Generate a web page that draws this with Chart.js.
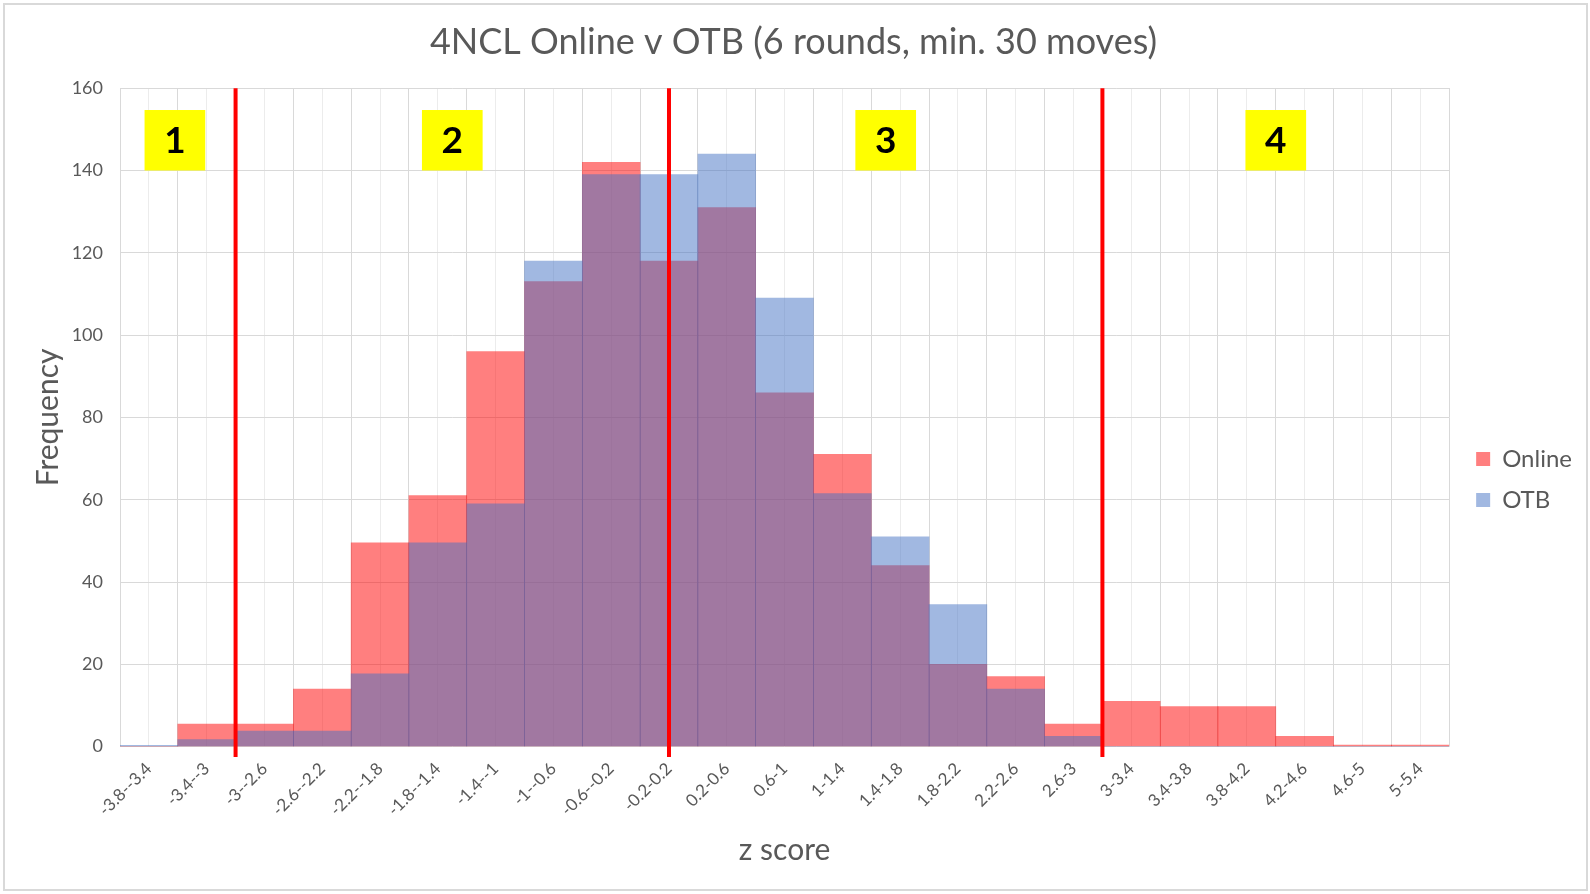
<!DOCTYPE html>
<html lang="en">

<head>
  <meta charset="UTF-8">
  <script src="https://cdn.jsdelivr.net/npm/chart.js@4"></script>
  <style>
    html,
    body {
      margin: 0;
      padding: 0;
      background: #fff;
    }

    body {
      width: 1590px;
      height: 894px;
      overflow: hidden;
      position: relative;
    }

    .frame {
      position: absolute;
      left: 3px;
      top: 3px;
      width: 1581px;
      height: 884px;
      border: 2px solid #d9d9d9;
    }

    .frame canvas {
      width: 1581px;
      height: 884px;
    }
  </style>
</head>

<body>
  <div class="frame">
    <canvas id="myChart"></canvas>
  </div>

  <script>
    // z score bins (category labels)
    const zBins = ['-3.8--3.4', '-3.4--3', '-3--2.6', '-2.6--2.2', '-2.2--1.8', '-1.8--1.4', '-1.4--1',
      '-1--0.6', '-0.6--0.2', '-0.2-0.2', '0.2-0.6', '0.6-1', '1-1.4', '1.4-1.8', '1.8-2.2', '2.2-2.6',
      '2.6-3', '3-3.4', '3.4-3.8', '3.8-4.2', '4.2-4.6', '4.6-5', '5-5.4'];

    const online = [0, 5.5, 5.5, 14, 49.5, 61, 96, 113, 142, 118, 131, 86, 71, 44, 20, 17, 5.5, 11, 9.7, 9.7, 2.5, 0.4, 0.4];
    const otb = [0.3, 1.7, 3.8, 3.8, 17.7, 49.5, 59, 118, 139, 139, 144, 109, 61.5, 51, 34.5, 14, 2.5, 0, 0, 0, 0, 0, 0];

    const yMin = 0, yMax = 160, yStep = 20;

    // zone dividers (z values) and numbered zone markers
    const zoneCuts = [-3, 0, 3];
    const zoneNames = ['1', '2', '3', '4'];
    const zoneCentres = [-3.42, -1.5, 1.5, 4.2];
    const zoneBand = [140, 154.7];

    const zMin = -3.8, zMax = 5.4, zStep = 0.2;

    Chart.defaults.font.family = 'Lato';
    Chart.defaults.color = '#595959';

    const zoneBoxes = {
      id: 'zoneBoxes',
      beforeDatasetsDraw(chart) {
        const { ctx, scales } = chart;
        const xz = scales.xz, y = scales.y;
        ctx.save();
        zoneCentres.forEach((c, i) => {
          const l = xz.getPixelForValue(c - 0.21);
          const r = xz.getPixelForValue(c + 0.21);
          const t = y.getPixelForValue(zoneBand[1]);
          const b = y.getPixelForValue(zoneBand[0]);
          ctx.fillStyle = '#ffff00';
          ctx.fillRect(l, t, r - l, b - t);
          ctx.fillStyle = '#000';
          ctx.font = 'bold 37px Lato';
          ctx.textAlign = 'center';
          ctx.textBaseline = 'middle';
          ctx.fillText(zoneNames[i], (l + r) / 2, (t + b) / 2 + 1);
        });
        ctx.restore();
      }
    };

    const cutSets = zoneCuts.map(z => ({
      type: 'line',
      label: 'cut',
      xAxisID: 'xz',
      data: [{ x: z, y: -2.5 }, { x: z, y: yMax }],
      borderColor: '#ff0000',
      borderWidth: 4,
      pointRadius: 0,
      clip: false,
      order: 0
    }));

    const ctx = document.getElementById('myChart').getContext('2d');
    const chart = new Chart(ctx, {
      type: 'bar',
      data: {
        labels: zBins,
        datasets: [
          {
            label: 'Online',
            data: online,
            backgroundColor: 'rgba(255, 0, 0, 0.5)',
            borderWidth: 0,
            barPercentage: 1,
            categoryPercentage: 1,
            grouped: false,
            order: 2
          },
          {
            label: 'OTB',
            data: otb,
            backgroundColor: 'rgba(68, 114, 196, 0.5)',
            borderWidth: 0,
            barPercentage: 1,
            categoryPercentage: 1,
            grouped: false,
            order: 1
          },
          ...cutSets
        ]
      },
      options: {
        responsive: true,
        maintainAspectRatio: false,
        animation: false,
        layout: { padding: { left: 0, right: 4, top: 0, bottom: 0 } },
        plugins: {
          title: {
            display: true,
            text: '4NCL Online v OTB (6 rounds, min. 30 moves)',
            color: '#595959',
            font: { size: 36, weight: 'normal' },
            padding: { top: 16, bottom: 24 }
          },
          legend: {
            position: 'right',
            title: { display: true, text: ' ', font: { size: 10 }, padding: { top: 53, bottom: 0 } },
            labels: {
              boxWidth: 14,
              boxHeight: 14,
              padding: 17,
              font: { size: 24 },
              color: '#595959',
              filter: item => item.datasetIndex < 2,
              sort: (a, b) => a.datasetIndex - b.datasetIndex
            }
          },
          tooltip: { enabled: false }
        },
        scales: {
          x: {
            type: 'category',
            grid: { display: false },
            border: { display: false },
            ticks: {
              minRotation: 45,
              maxRotation: 45,
              autoSkip: false,
              padding: 4,
              font: { size: 17 },
              color: '#595959'
            },
            title: {
              display: true,
              text: 'z score',
              font: { size: 30 },
              color: '#595959',
              padding: { top: 8, bottom: 21 }
            }
          },
          xz: {
            type: 'linear',
            axis: 'x',
            position: 'top',
            offset: false,
            min: zMin,
            max: zMax,
            ticks: { display: false, stepSize: zStep },
            border: { display: false },
            grid: {
              offset: false,
              drawTicks: false,
              color: c => (c.index % 2 === 0 ? '#d9d9d9' : '#ececec')
            }
          },
          y: {
            min: yMin,
            max: yMax,
            ticks: { stepSize: yStep, padding: 17, font: { size: 18 }, color: '#595959' },
            border: { display: false },
            grid: { color: '#d9d9d9', drawTicks: false },
            title: {
              display: true,
              text: 'Frequency',
              font: { size: 30 },
              color: '#595959',
              padding: { top: 25, bottom: 8 }
            },
            afterFit: s => { s.width = 115; }
          },
          yr: {
            type: 'linear',
            axis: 'y',
            position: 'right',
            display: true,
            grid: { display: false },
            border: { display: false },
            ticks: { display: false },
            afterFit: s => { s.width = 10; }
          }
        }
      },
      plugins: [zoneBoxes]
    });
  </script>
</body>

</html>
